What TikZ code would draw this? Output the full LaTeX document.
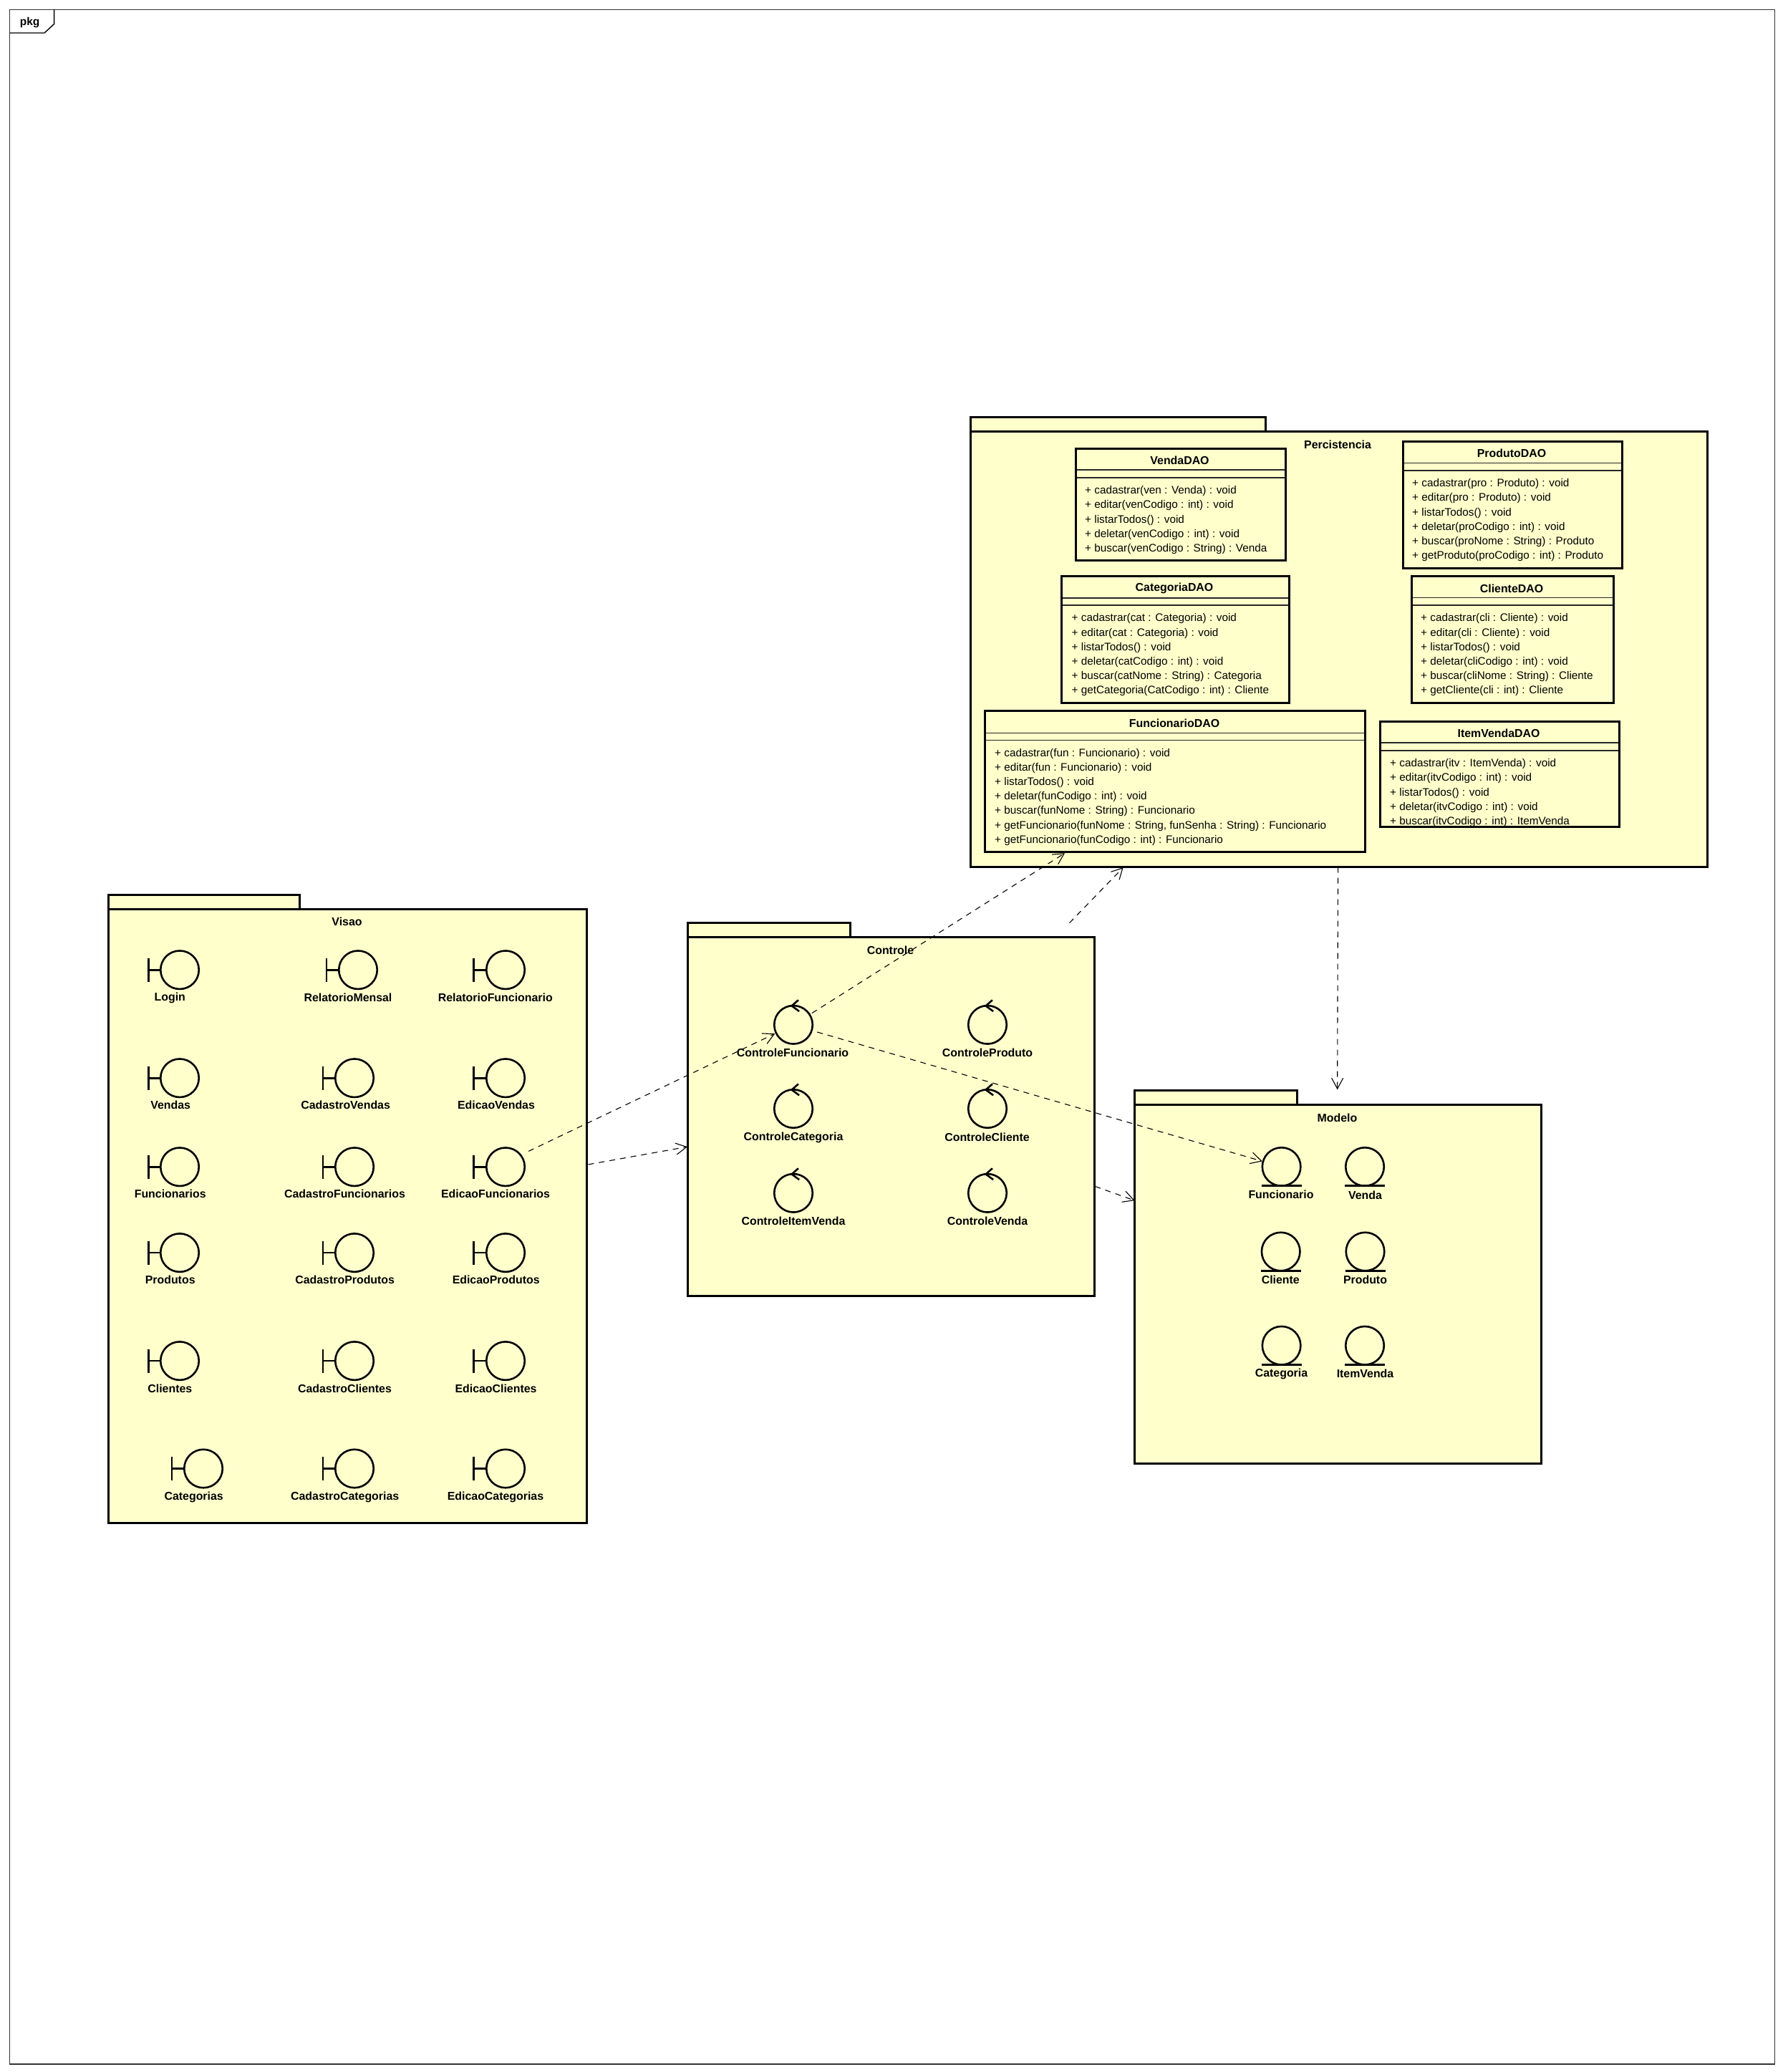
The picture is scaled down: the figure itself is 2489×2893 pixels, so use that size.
\documentclass[tikz,border=0pt]{standalone}
\usepackage{fontspec}
\setmainfont{Liberation Sans}
\usetikzlibrary{arrows.meta,fit}
\definecolor{umlfill}{HTML}{FFFFCC}
\tikzset{
  box/.style={draw=black,fill=umlfill,line width=3pt,inner sep=0pt,outer sep=0pt},
  ttl/.style={inner sep=0pt,font=\fontsize{15.9}{18}\selectfont\bfseries},
  ops/.style={inner sep=0pt,anchor=north west,align=left,font=\fontsize{15.3}{20.2}\selectfont},
  icon/.style={draw=black,fill=umlfill,circle,minimum size=53.5pt,line width=2.6pt,inner sep=0pt,outer sep=0pt},
  iconln/.style={line width=2.6pt,line cap=butt},
  dep/.style={draw=black,line width=1.1pt,dash pattern=on 8pt off 7pt,-{Straight Barb[length=15pt,width=16pt,line width=1.1pt]}},
}
\newcommand{\umlpkg}[6]{%
  \coordinate (#1-t1) at (#2);
  \coordinate (#1-t2) at (#3);
  \coordinate (#1-b1) at (#4);
  \coordinate (#1-b2) at (#5);
  \node[box,fit=(#1-t1)(#1-t2)] (#1-tab) {};
  \node[box,fit=(#1-b1)(#1-b2)] (#1) {};
  \node[ttl] (#1-name) at (#6) {\pkglabel};
}
\newcommand{\umlcls}[9]{%
  \coordinate (#1-a) at (#2);
  \coordinate (#1-b) at (#3);
  \node[box,fit=(#1-a)(#1-b)] (#1) {};
  \node[ttl] (#1-title) at (#7) {#6};
  \node[ops] (#1-ops) at (#8) {#9};
  \draw[line width=1.7pt,black!85] (#1.west |- 0,#4) -- (#1.east |- 0,#4);
  \draw[line width=1.7pt,black!85] (#1.west |- 0,#5) -- (#1.east |- 0,#5);
  \draw[line width=3pt] (#1.north west) rectangle (#1.south east);
}
\newcommand{\umlbnd}[7]{%
  \node[icon] (#1) at (#3,#4) {};
  \node[ttl] (#1-name) at (#5,#6) {#7};
  \draw[iconln] (#2,#4-16.6) -- (#2,#4+16.6);
  \draw[iconln] (#2,#4) -- (#1.west);
}
\newcommand{\umlctl}[6]{%
  \node[icon] (#1) at (#2,#3) {};
  \node[ttl] (#1-name) at (#4,#5) {#6};
  \draw[iconln,line join=miter] ([shift={(6.9,-7.8)}]#1.center |- #1.north) -- ([shift={(-2.3,0.4)}]#1.center |- #1.north) -- ([shift={(8.1,8)}]#1.center |- #1.north);
}
\newcommand{\umlent}[6]{%
  \node[icon] (#1) at (#2,#3) {};
  \node[ttl] (#1-name) at (#4,#5) {#6};
  \draw[line width=3pt] ([shift={(-28,26.5)}]#1.center) -- ([shift={(28,26.5)}]#1.center);
}
\begin{document}
\begin{tikzpicture}[x=1pt,y=-1pt]
\useasboundingbox[fill=white] (0,0) rectangle (2489,2893);
\coordinate (f1) at (13.5,13.5);
\coordinate (f2) at (2478.5,2882);
\node[draw=black!80,line width=1.4pt,inner sep=0pt,fit=(f1)(f2)] (frame) {};
\draw[black,line width=1.4pt] (75.6,13.5) -- (75.6,33.5) -- (62,46) -- (13.5,46);
\node[inner sep=0pt,font=\fontsize{15.5}{18}\selectfont\bfseries] (framelabel) at (41.6,32) {pkg};
\def\pkglabel{Percistencia}
\umlpkg{pP}{1355,582.6}{1767,602}{1355,602}{2384,1210.5}{1868,620.5}
\def\pkglabel{Visao}
\umlpkg{pV}{151,1249}{418,1269.3}{151,1269.3}{819,2126.5}{484.5,1287}
\def\pkglabel{Controle}
\umlpkg{pC}{960,1288.2}{1187.5,1308.5}{960,1308.5}{1528,1809.5}{1243.5,1326.8}
\def\pkglabel{Modelo}
\umlpkg{pM}{1584.5,1522}{1811,1542}{1584.5,1542}{2152,2043.8}{1867.5,1560.3}
\umlcls{cVenda}{1502.5,626.4}{1795,782.6}{656.3}{667.3}{VendaDAO}{1647.5,643.2}{1515,678.5}{%
+ cadastrar(ven : Venda) : void\\+ editar(venCodigo : int) : void\\+ listarTodos() : void\\+ deletar(venCodigo : int) : void\\+ buscar(venCodigo : String) : Venda}
\umlcls{cProd}{1959.5,616.3}{2265,793.5}{646.6}{657.1}{ProdutoDAO}{2111,633}{1972,668.4}{%
+ cadastrar(pro : Produto) : void\\+ editar(pro : Produto) : void\\+ listarTodos() : void\\+ deletar(proCodigo : int) : void\\+ buscar(proNome : String) : Produto\\+ getProduto(proCodigo : int) : Produto}
\umlcls{cCat}{1482,804.5}{1800.5,981.7}{835.2}{845.3}{CategoriaDAO}{1640,821.8}{1496.5,856.6}{%
+ cadastrar(cat : Categoria) : void\\+ editar(cat : Categoria) : void\\+ listarTodos() : void\\+ deletar(catCodigo : int) : void\\+ buscar(catNome : String) : Categoria\\+ getCategoria(CatCodigo : int) : Cliente}
\umlcls{cCli}{1971.5,804.5}{2253,981.7}{834.4}{845.3}{ClienteDAO}{2111,821.8}{1984,856.6}{%
+ cadastrar(cli : Cliente) : void\\+ editar(cli : Cliente) : void\\+ listarTodos() : void\\+ deletar(cliCodigo : int) : void\\+ buscar(cliNome : String) : Cliente\\+ getCliente(cli : int) : Cliente}
\umlcls{cFun}{1375,992.3}{1906.5,1189.7}{1023.4}{1033.5}{FuncionarioDAO}{1640,1009.5}{1389,1044.8}{%
+ cadastrar(fun : Funcionario) : void\\+ editar(fun : Funcionario) : void\\+ listarTodos() : void\\+ deletar(funCodigo : int) : void\\+ buscar(funNome : String) : Funcionario\\+ getFuncionario(funNome : String, funSenha : String) : Funcionario\\+ getFuncionario(funCodigo : int) : Funcionario}
\umlcls{cItem}{1927,1007.4}{2261,1154.8}{1037.3}{1048.3}{ItemVendaDAO}{2093,1024.3}{1941,1059.5}{%
+ cadastrar(itv : ItemVenda) : void\\+ editar(itvCodigo : int) : void\\+ listarTodos() : void\\+ deletar(itvCodigo : int) : void\\+ buscar(itvCodigo : int) : ItemVenda}
\umlbnd{bLogin}{207.5}{251}{1354.2}{237.3}{1393.7}{Login}
\umlbnd{bRelMen}{456}{500}{1354.2}{486}{1393.2}{RelatorioMensal}
\umlbnd{bRelFun}{661.5}{706}{1354.2}{691.8}{1393.2}{RelatorioFuncionario}
\umlbnd{bVen}{207.5}{251}{1505.2}{238.2}{1543.2}{Vendas}
\umlbnd{bCadVen}{451}{495}{1505.2}{482.6}{1543.2}{CadastroVendas}
\umlbnd{bEdVen}{661.5}{706}{1505.2}{693}{1543.2}{EdicaoVendas}
\umlbnd{bFun}{207.5}{251}{1629.2}{237.7}{1667.2}{Funcionarios}
\umlbnd{bCadFun}{451}{495}{1629.2}{481.5}{1667.2}{CadastroFuncionarios}
\umlbnd{bEdFun}{661.5}{706}{1629.2}{692}{1667.2}{EdicaoFuncionarios}
\umlbnd{bPro}{207.5}{251}{1749.1}{237.7}{1787.2}{Produtos}
\umlbnd{bCadPro}{451}{495}{1749.1}{481.7}{1787.2}{CadastroProdutos}
\umlbnd{bEdPro}{661.5}{706}{1749.1}{692.7}{1787.2}{EdicaoProdutos}
\umlbnd{bCli}{207.5}{251}{1900.1}{237.3}{1938.8}{Clientes}
\umlbnd{bCadCli}{451}{495}{1900.1}{481.5}{1938.8}{CadastroClientes}
\umlbnd{bEdCli}{661.5}{706}{1900.1}{692.5}{1938.8}{EdicaoClientes}
\umlbnd{bCat}{240}{284}{2050.5}{270.7}{2090}{Categorias}
\umlbnd{bCadCat}{451}{495}{2050.5}{481.7}{2090}{CadastroCategorias}
\umlbnd{bEdCat}{661.5}{706}{2050.5}{692}{2090}{EdicaoCategorias}
\umlctl{kFun}{1108}{1430.8}{1107}{1469.5}{ControleFuncionario}
\umlctl{kPro}{1379}{1430.8}{1379}{1469.5}{ControleProduto}
\umlctl{kCat}{1108}{1548}{1108}{1588}{ControleCategoria}
\umlctl{kCli}{1379}{1548}{1378.5}{1588}{ControleCliente}
\umlctl{kIte}{1108}{1665.8}{1108}{1705}{ControleItemVenda}
\umlctl{kVen}{1379}{1665.8}{1379}{1705}{ControleVenda}
\umlent{eFun}{1789.6}{1629}{1789}{1667.4}{Funcionario}
\umlent{eVen}{1906}{1629}{1906.5}{1668.5}{Venda}
\umlent{eCli}{1788.7}{1747.5}{1788.3}{1786.3}{Cliente}
\umlent{ePro}{1906.5}{1747.5}{1906.5}{1786.3}{Produto}
\umlent{eCat}{1789.6}{1878.7}{1789.5}{1918}{Categoria}
\umlent{eIte}{1906}{1878.7}{1906.5}{1918}{ItemVenda}
\draw[dep] ([shift={(32.1,-21.8)}]bEdFun.center) -- ([shift={(-25.8,12.4)}]kFun.center);
\draw[dep] ([shift={(2.5,-72)}]pV.east) -- ([shift={(0,42.15)}]pC.west);
\draw[dep] ([shift={(25.9,-16.2)}]kFun.center) -- ([shift={(-153.75,1.5)}]cFun.south);
\draw[dep] ([shift={(249.5,-19.9)}]pC.north) -- ([shift={(-300.95,0.7)}]pP.south);
\draw[dep] ([shift={(33.3,10.2)}]kFun.center) -- ([shift={(-26.8,-7.6)}]eFun.center);
\draw[dep] ([shift={(1.3,97.45)}]pC.east) -- ([shift={(0,-116.7)}]pM.west);
\draw[dep] ([shift={(-0.95,0)}]pP.south) -- ([shift={(-0.6,-20.6)}]pM.north);
\end{tikzpicture}
\end{document}
